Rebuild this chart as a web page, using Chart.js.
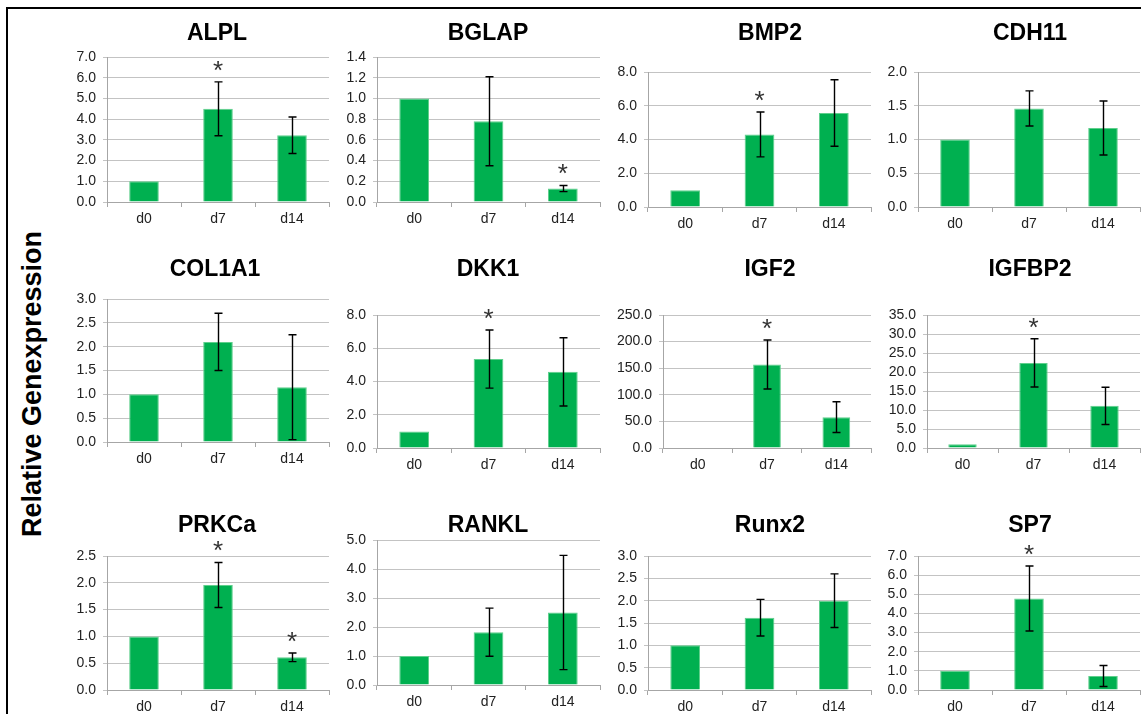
<!DOCTYPE html>
<html>
<head>
<meta charset="utf-8">
<script src="https://cdn.jsdelivr.net/npm/chart.js@4.4.0/dist/chart.umd.min.js"></script>
<style>
html, body { margin: 0; padding: 0; background: #fff; width: 1141px; height: 714px; overflow: hidden; }
#frame { position: absolute; left: 6px; top: 7px; width: 1200px; height: 800px; border-left: 2px solid #000; border-top: 2px solid #000; }
.panel { position: absolute; }
#ylabel { position: absolute; left: 32px; top: 384px; transform: translate(-50%, -50%) rotate(-90deg);
  font: bold 27px 'Liberation Sans', Arial, sans-serif; white-space: nowrap; color: #000; }
</style>
</head>
<body>
<div id="frame"></div>
<div id="ylabel">Relative Genexpression</div>
<script>
// 遺伝子とカテゴリ
const genes = ['ALPL', 'BGLAP', 'BMP2', 'CDH11', 'COL1A1', 'DKK1', 'IGF2', 'IGFBP2', 'PRKCa', 'RANKL', 'Runx2', 'SP7'];
const days = ['d0', 'd7', 'd14'];

// 平均値 (日ごと)
const meanD0  = [1.0, 1.0, 1.0, 1.0, 1.0, 1.0, 1.0, 1.0, 1.0, 1.0, 1.0, 1.0];
const meanD7  = [4.5, 0.78, 4.3, 1.46, 2.1, 5.35, 157, 22.4, 1.96, 1.82, 1.62, 4.78];
const meanD14 = [3.22, 0.13, 5.57, 1.17, 1.15, 4.58, 58, 11.1, 0.61, 2.5, 2.0, 0.73];

// エラーバー (±)
const errD7  = [1.3, 0.43, 1.33, 0.26, 0.6, 1.75, 46, 6.35, 0.42, 0.83, 0.41, 1.7];
const errD14 = [0.88, 0.03, 1.97, 0.4, 1.1, 2.05, 29, 4.9, 0.08, 1.97, 0.6, 0.55];

// 有意差マーク (*)
const starD7  = [1, 0, 1, 0, 0, 1, 1, 1, 1, 0, 0, 1];
const starD14 = [0, 1, 0, 0, 0, 0, 0, 0, 1, 0, 0, 0];

// Y軸の目盛り
const yMax  = [7, 1.4, 8, 2, 3, 8, 250, 35, 2.5, 5, 3, 7];
const yStep = [1, 0.2, 2, 0.5, 0.5, 2, 50, 5, 0.5, 1, 0.5, 1];

// パネル配置 (px)
const plotLeft   = [107, 377, 648, 918, 107, 377, 663, 927, 107, 377, 648, 918];
const plotRight  = [329, 600, 871, 1140, 329, 600, 871, 1140, 329, 600, 871, 1140];
const plotTop    = [57, 57, 72, 72, 299, 315, 315, 315, 556, 540, 556, 556];
const plotBottom = [202, 202, 207, 207, 442, 448, 448, 448, 690, 685, 690, 690];
const titleX = [217, 488, 770, 1030, 215, 488, 770, 1030, 217, 488, 770, 1030];
const titleY = [32, 32, 32, 32, 268, 268, 268, 268, 524, 524, 524, 524];

const PAD_L = 70, PAD_R = 2, PAD_B = 30;
const FONT = "'Liberation Sans', Arial, sans-serif";

// エラーバー・アスタリスク・タイトル描画
const panelDecor = {
    id: 'panelDecor',
    afterDatasetsDraw(chart, args, opts) {
        const ctx = chart.ctx;
        const y = chart.scales.y;
        const meta = chart.getDatasetMeta(0);
        const values = chart.data.datasets[0].data;
        ctx.save();
        ctx.strokeStyle = '#000';
        ctx.lineWidth = 1.4;
        meta.data.forEach((bar, i) => {
            const e = opts.errors[i];
            if (!e) return;
            const cx = Math.round(bar.x) + 0.5;
            const top = y.getPixelForValue(values[i] + e);
            const bot = y.getPixelForValue(values[i] - e);
            ctx.beginPath();
            ctx.moveTo(cx, top); ctx.lineTo(cx, bot);
            ctx.moveTo(cx - 4, top); ctx.lineTo(cx + 4, top);
            ctx.moveTo(cx - 4, bot); ctx.lineTo(cx + 4, bot);
            ctx.stroke();
        });
        ctx.fillStyle = '#333';
        ctx.font = '26px ' + FONT;
        ctx.textAlign = 'center';
        ctx.textBaseline = 'alphabetic';
        meta.data.forEach((bar, i) => {
            if (!opts.stars[i]) return;
            const top = y.getPixelForValue(values[i] + (opts.errors[i] || 0));
            ctx.fillText('*', bar.x, top - 3);
        });
        ctx.fillStyle = '#000';
        ctx.font = 'bold 23px ' + FONT;
        ctx.fillText(opts.title, opts.tx, opts.ty + 8);
        ctx.restore();
    }
};

function createPanel(g) {
    const canvasTop = titleY[g] - 22;
    const canvasLeft = plotLeft[g] - PAD_L;
    const w = plotRight[g] - plotLeft[g] + PAD_L + PAD_R;
    const h = plotBottom[g] - canvasTop + PAD_B;

    const canvas = document.createElement('canvas');
    canvas.className = 'panel';
    canvas.width = w;
    canvas.height = h;
    canvas.style.left = canvasLeft + 'px';
    canvas.style.top = canvasTop + 'px';
    canvas.style.width = w + 'px';
    canvas.style.height = h + 'px';
    document.body.appendChild(canvas);

    new Chart(canvas.getContext('2d'), {
        type: 'bar',
        data: {
            labels: days,
            datasets: [{
                data: [meanD0[g], meanD7[g], meanD14[g]],
                backgroundColor: '#00b050',
                borderColor: '#5fcf8c',
                borderWidth: 1,
                barPercentage: 0.4,
                categoryPercentage: 1.0
            }]
        },
        options: {
            responsive: false,
            animation: false,
            layout: { padding: { top: plotTop[g] - canvasTop, right: PAD_R, left: 0, bottom: 0 } },
            plugins: {
                legend: { display: false },
                tooltip: { enabled: false },
                panelDecor: {
                    errors: [0, errD7[g], errD14[g]],
                    stars: [0, starD7[g], starD14[g]],
                    title: genes[g],
                    tx: titleX[g] - canvasLeft,
                    ty: titleY[g] - canvasTop
                }
            },
            scales: {
                x: {
                    offset: true,
                    grid: { offset: true, drawOnChartArea: false, tickLength: 5, color: '#a6a6a6' },
                    border: { color: '#a6a6a6' },
                    ticks: { color: '#222', font: { family: FONT, size: 14 }, padding: 4 },
                    afterFit: scale => { scale.height = PAD_B; }
                },
                y: {
                    min: 0,
                    max: yMax[g],
                    grid: { color: '#c3c3c3', tickLength: 4 },
                    border: { color: '#a6a6a6' },
                    ticks: {
                        stepSize: yStep[g],
                        autoSkip: false,
                        color: '#222',
                        padding: 7,
                        font: { family: FONT, size: 14 },
                        callback: v => Number(v).toFixed(1)
                    },
                    afterFit: scale => { scale.width = PAD_L; }
                }
            }
        },
        plugins: [panelDecor]
    });
}

document.addEventListener('DOMContentLoaded', () => {
    genes.forEach((name, g) => createPanel(g));
});
</script>
</body>
</html>
